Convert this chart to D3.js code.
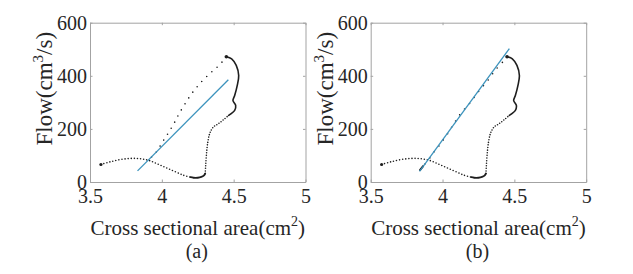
<!DOCTYPE html>
<html>
<head>
<meta charset="utf-8">
<title>Flow vs cross sectional area</title>
<script src="https://d3js.org/d3.v7.min.js"></script>
<style>
  body { margin: 0; background: #fff; }
  svg { display: block; }
  svg text { font-family: "Liberation Serif", serif; }
</style>
</head>
<body>
<div id="chart"></div>
<script>
// axis ticks
var xTicks = [3.5, 4, 4.5, 5];
var yTicks = [0, 200, 400, 600];
var panelNames = ["(a)", "(b)"];

// the measured loop, shared by both panels (area cm^2, flow cm^3/s)
var tailArea = [3.576, 3.64, 3.73, 3.82, 3.905, 3.986, 4.067, 4.148, 4.20];
var tailFlow = [66, 76, 86, 89, 82, 64, 45, 26, 18];
var troughArea = [4.20, 4.22, 4.25, 4.275, 4.292, 4.302];
var troughFlow = [18, 16, 16, 19, 24, 32];
var riseArea = [4.302, 4.305, 4.31, 4.32, 4.335, 4.36, 4.39, 4.43, 4.465];
var riseFlow = [32, 60, 100, 150, 185, 208, 218, 235, 251];
var crestArea = [4.465, 4.507, 4.514, 4.495, 4.507, 4.525, 4.535, 4.518, 4.486, 4.449];
var crestFlow = [251, 270, 289, 307, 326, 364, 401, 439, 464, 472];

// return branch, panel (a)
var backAreaA = [4.449, 4.40, 4.36, 4.32, 4.28, 4.24, 4.20, 4.16, 4.12, 4.09, 4.06, 4.028, 3.998, 3.975, 3.947, 3.917];
var backFlowA = [472, 440, 421, 401, 380, 355, 327, 293, 257, 226, 198, 170, 145, 123, 104, 88];
// return branch, panel (b)
var backAreaB = [4.449, 4.424, 4.37, 4.319, 4.25, 4.19, 4.122, 4.087, 4.057, 4.024, 3.994, 3.97, 3.936, 3.90, 3.865];
var backFlowB = [472, 455, 423, 385, 340, 297, 255, 226, 201, 172, 151, 132, 110, 82, 60];
var blobAreaB = [3.865, 3.843];
var blobFlowB = [60, 45];

// fitted straight lines
var fitAreaA = [3.831, 4.463];
var fitFlowA = [42, 385];
var fitAreaB = [3.840, 4.465];
var fitFlowB = [40, 502];

var FONT = "Liberation Serif";

function zip(a, f) { return a.map(function(v, i) { return [v, f[i]]; }); }

var W = 633, H = 274;
var svg = d3.select("#chart").append("svg").attr("width", W).attr("height", H);

var panels = [
  { left: 90, back: zip(backAreaA, backFlowA), blob: null, fit: zip(fitAreaA, fitFlowA), gap: 7 },
  { left: 370.7, back: zip(backAreaB, backFlowB), blob: zip(blobAreaB, blobFlowB), fit: zip(fitAreaB, fitFlowB), gap: 7.5 }
];
var plotTop = 22.7, pw = 215.5, ph = 159.3;

panels.forEach(function(p, k) {
  var g = svg.append("g").attr("transform", "translate(" + p.left + "," + plotTop + ")");

  var x = d3.scaleLinear().domain([3.5, 5]).range([0, pw]);
  var y = d3.scaleLinear().domain([0, 600]).range([ph, 0]);

  // box + inward ticks
  var axes = [
    g.append("g").attr("transform", "translate(0," + ph + ")")
      .call(d3.axisBottom(x).tickValues(xTicks).tickSize(-2.5).tickSizeOuter(0).tickPadding(7).tickFormat(d3.format(""))),
    g.append("g")
      .call(d3.axisLeft(y).tickValues(yTicks).tickSize(-2.5).tickSizeOuter(0).tickPadding(3)),
    g.append("g")
      .call(d3.axisTop(x).tickValues(xTicks).tickSize(-2.5).tickSizeOuter(0).tickFormat("")),
    g.append("g").attr("transform", "translate(" + pw + ",0)")
      .call(d3.axisRight(y).tickValues(yTicks).tickSize(-2.5).tickSizeOuter(0).tickFormat(""))
  ];
  axes.forEach(function(a) {
    a.attr("font-family", null).attr("font-size", null);
    a.select(".domain").attr("stroke", "#a3a3a3");
    a.selectAll(".tick line").attr("stroke", "#a3a3a3");
    a.selectAll(".tick text").style("font-family", FONT).style("font-size", "20px").attr("fill", "#262626");
  });

  var line = d3.line().x(function(d) { return x(d[0]); }).y(function(d) { return y(d[1]); });
  var smooth = d3.line().curve(d3.curveCatmullRom.alpha(0.5))
    .x(function(d) { return x(d[0]); }).y(function(d) { return y(d[1]); });

  function dotted(data, gap, w) {
    g.append("path").attr("d", smooth(data)).attr("fill", "none")
      .attr("stroke", "#1e1e1e").attr("stroke-width", w || 1.6)
      .attr("stroke-linecap", "round").attr("stroke-dasharray", "0," + gap);
  }
  function solid(data, w) {
    g.append("path").attr("d", smooth(data)).attr("fill", "none")
      .attr("stroke", "#1e1e1e").attr("stroke-width", w || 1.7)
      .attr("stroke-linecap", "round");
  }

  dotted(zip(tailArea, tailFlow), 3.1);
  solid(zip(troughArea, troughFlow), 1.8);
  dotted(zip(riseArea, riseFlow), 2.6);
  solid(zip(crestArea, crestFlow), 1.6);
  dotted(p.back, p.gap);
  if (p.blob) solid(p.blob, 2);
  // heavier dots at the start of the tail and at the crest
  g.append("circle").attr("cx", x(tailArea[0])).attr("cy", y(tailFlow[0])).attr("r", 1.6).attr("fill", "#1e1e1e");
  g.append("circle").attr("cx", x(crestArea[crestArea.length - 1])).attr("cy", y(crestFlow[crestFlow.length - 1])).attr("r", 1.8).attr("fill", "#1e1e1e");

  g.append("path").attr("d", line(p.fit)).attr("fill", "none")
    .attr("stroke", "#3c93bd").attr("stroke-width", 1.3);

  // axis titles
  var yl = g.append("text").style("font-family", FONT).style("font-size", "23px").attr("fill", "#262626")
    .attr("text-anchor", "middle")
    .attr("transform", "translate(-38,66) rotate(-90)");
  yl.append("tspan").text("Flow(cm");
  yl.append("tspan").style("font-size", "15px").attr("dy", -9).text("3");
  yl.append("tspan").attr("dy", 9).text("/s)");

  var xl = g.append("text").style("font-family", FONT).style("font-size", "21px").attr("fill", "#262626")
    .attr("text-anchor", "middle")
    .attr("x", pw / 2).attr("y", ph + 53);
  xl.append("tspan").text("Cross sectional area(cm");
  xl.append("tspan").style("font-size", "14px").attr("dy", -9).text("2");
  xl.append("tspan").attr("dy", 9).text(")");

  g.append("text").style("font-family", FONT).style("font-size", "20px").attr("fill", "#262626")
    .attr("text-anchor", "middle")
    .attr("x", pw / 2 - 1).attr("y", ph + 76)
    .text(panelNames[k]);
});
</script>
</body>
</html>
